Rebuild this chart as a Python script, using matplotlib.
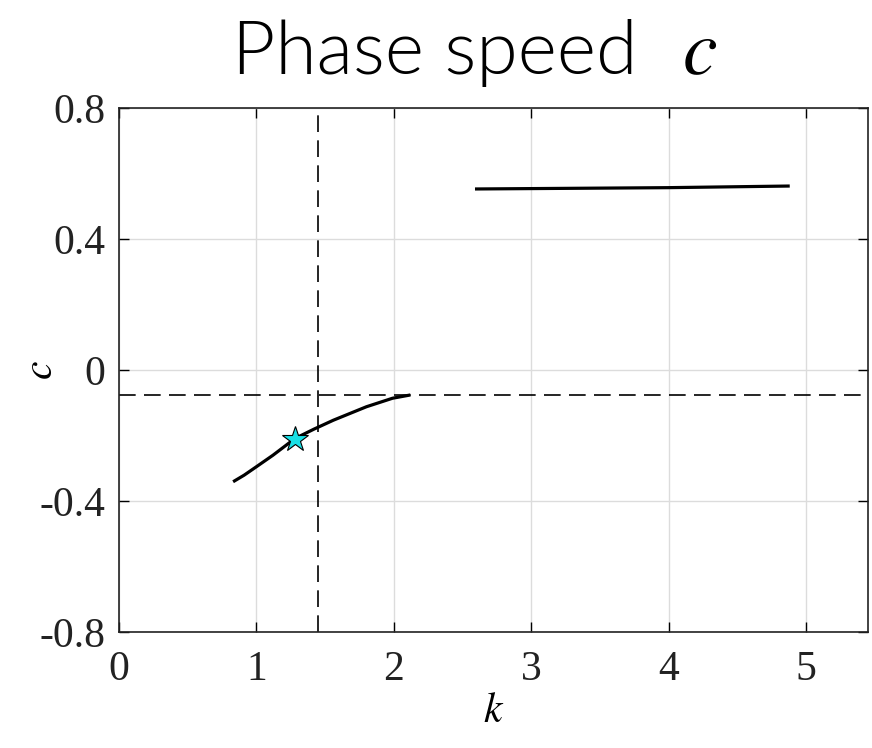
import matplotlib
matplotlib.use("Agg")
import matplotlib.pyplot as plt

plt.rcParams["mathtext.fontset"] = "stix"

# Dispersion branches: wavenumber k vs phase speed c
k_lower = [0.83, 0.91, 1.00, 1.12, 1.28, 1.42, 1.56, 1.80, 1.99, 2.12]
c_lower = [-0.341, -0.321, -0.295, -0.260, -0.209, -0.180, -0.153, -0.112, -0.086, -0.076]

k_upper = [2.59, 3.99, 4.88]
c_upper = [0.553, 0.557, 0.562]

# Selected mode and reference lines
k_star = [1.28]
c_star = [-0.209]
k_ref = 1.45
c_ref = -0.075

x_ticks = [0, 1, 2, 3, 4, 5]
y_ticks = [-0.8, -0.4, 0, 0.4, 0.8]
y_tick_labels = ["-0.8", "-0.4", "0", "0.4", "0.8"]

fig = plt.figure(figsize=(8.72, 7.48), dpi=100)
ax = fig.add_axes([0.1365, 0.155, 0.859, 0.7005])

ax.plot(k_lower, c_lower, color="black", lw=2.3, solid_capstyle="butt",
        solid_joinstyle="round")
ax.plot(k_upper, c_upper, color="black", lw=2.3, solid_capstyle="butt")
ax.axhline(c_ref, color="black", lw=1.2, dashes=(10, 5))
ax.axvline(k_ref, color="black", lw=1.2, dashes=(10, 5))
ax.plot(k_star, c_star, marker="*", ms=19, mfc="#19e0e6", mec="black",
        mew=0.8, ls="none", zorder=5)

ax.set_xlim(0, 5.45)
ax.set_ylim(-0.8, 0.8)
ax.set_xticks(x_ticks)
ax.set_xticklabels([str(t) for t in x_ticks])
ax.set_yticks(y_ticks)
ax.set_yticklabels(y_tick_labels)

ax.grid(True, color="#dcdcdc", lw=1.0)
ax.set_axisbelow(True)
ax.tick_params(direction="in", length=7, width=1.0, top=True, right=True,
               labelsize=30, labelcolor="#222222")
ax.tick_params(axis="x", pad=13)
ax.tick_params(axis="y", pad=10)
for lab in ax.get_xticklabels() + ax.get_yticklabels():
    lab.set_family("Liberation Serif")
for sp in ax.spines.values():
    sp.set_linewidth(1.2)
    sp.set_color("#222222")

ax.set_xlabel(r"$k$", fontsize=30, labelpad=0)
ax.set_ylabel(r"$c$", fontsize=30, va="center")
ax.yaxis.set_label_coords(-0.105, 0.5)

fig.text(0.498, 0.901, "Phase speed", ha="center", va="baseline",
         fontsize=54, family="Lato", fontweight=300)
fig.text(0.782, 0.901, r"$c$", ha="left", va="baseline", fontsize=56)

fig.savefig("out.png", dpi=100)
